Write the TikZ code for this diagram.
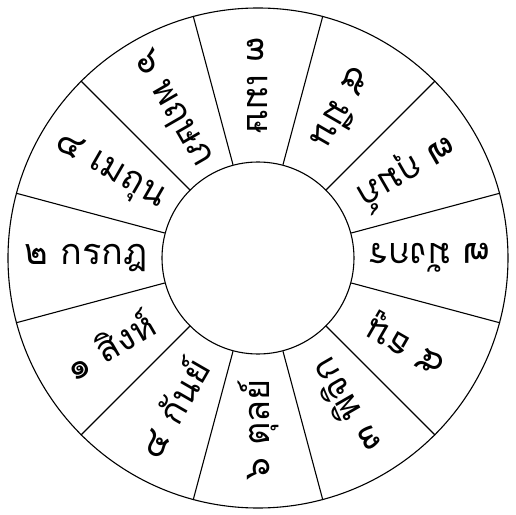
\documentclass[tikz,border=0pt]{standalone}
\usepackage{fontspec}
\newfontfamily\thaifont[Script=Thai]{Loma}

\begin{document}
\begin{tikzpicture}[x=0.5pt, y=0.5pt,
          ring/.style={draw, shape=circle, inner sep=0pt, line width=0.55pt},
          spoke/.style={line width=0.55pt},
          sign/.style={font=\thaifont\fontsize{18}{22}\selectfont, inner sep=0pt}
        ]
          \useasboundingbox (-258,-257) rectangle (258,258);
          \node[ring, minimum size=250pt] (rim) at (0,0) {};
          \node[ring, minimum size=96pt] (hub) at (0,0) {};
          
          \foreach \a in {15,45,...,345}
            \draw[spoke] (hub.\a) -- (rim.\a);
          
          \foreach \a/\t [count=\i] in {90/{๓ เมษ}, 120/{๖ พฤษภ}, 150/{๔ เมถุน}, 180/{๒ กรกฎ},
              210/{๑ สิงห์}, 240/{๔ กันย์}, 270/{๖ ตุลย์}, 300/{๓ พิจิก},
              330/{๕ ธนู}, 0/{๗ มังกร}, 30/{๗ กุมภ์}, 60/{๕ มีน}}
            \node[sign, rotate=\a+180] (sign\i) at (\a:172) {\t};
        \end{tikzpicture}
\end{document}
